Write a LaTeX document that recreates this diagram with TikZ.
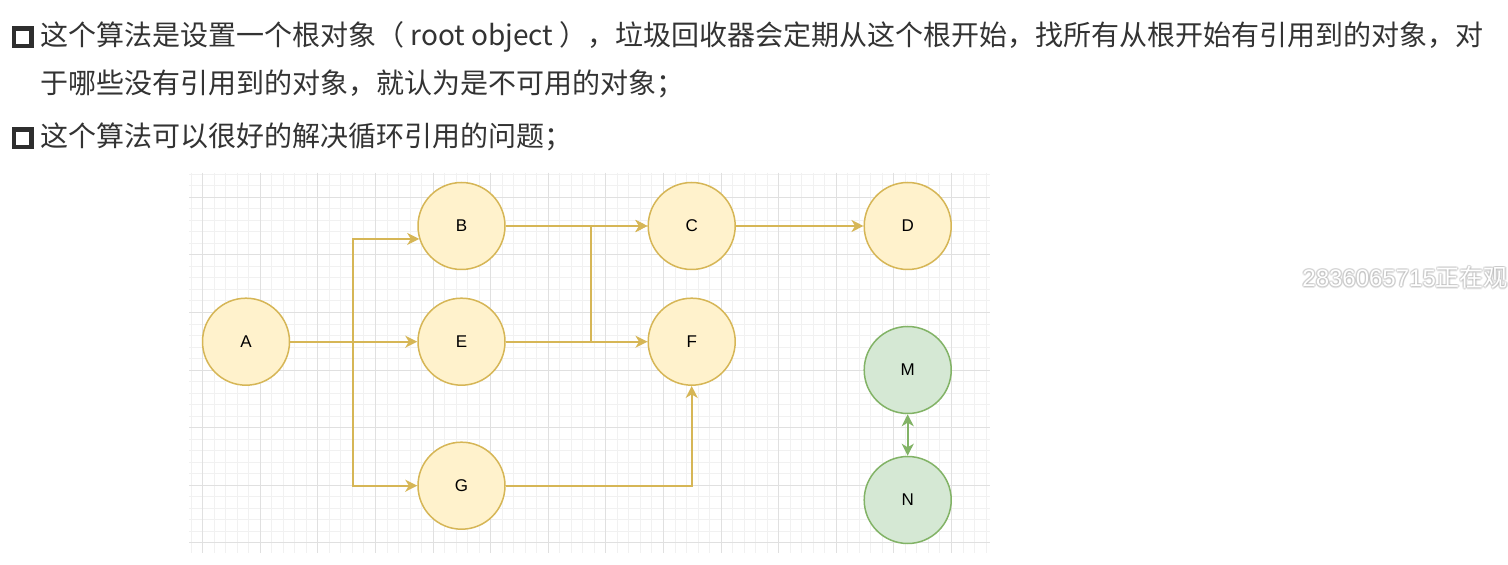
\documentclass[tikz,border=0pt]{standalone}
\usepackage{fontspec}
\setmainfont{Liberation Sans}
\newfontfamily\cjk{Noto Sans CJK SC}
\usetikzlibrary{arrows.meta}

\definecolor{txtgray}{HTML}{333333}
\definecolor{yfill}{HTML}{FFF2CC}
\definecolor{yline}{HTML}{D6B656}
\definecolor{gfill}{HTML}{D5E8D4}
\definecolor{gline}{HTML}{82B366}
\definecolor{minorgrid}{HTML}{F1F1F1}
\definecolor{majorgrid}{HTML}{E0E0E0}

\begin{document}
\begin{tikzpicture}[x=0.5pt, y=-0.5pt, >={Stealth[length=6pt, width=6pt, inset=1.8pt]},
  obj/.style={circle, draw=yline, fill=yfill, line width=0.75pt, minimum size=43.5pt,
    inner sep=0pt, font=\fontsize{8.5pt}{10pt}\selectfont},
  lone/.style={obj, draw=gline, fill=gfill},
  ref/.style={->, draw=yline, line width=1pt},
  para/.style={anchor=base west, inner sep=0pt, text=txtgray, font=\cjk\fontsize{14pt}{17pt}\selectfont},
  wmark/.style={anchor=base west, inner sep=0pt, font=\fontsize{12pt}{14pt}\selectfont}]

  \useasboundingbox (0,0) rectangle (1508,565);
  \fill[white] (0,0) rectangle (1508,565);

  % text above the figure
  \draw[txtgray!90!black, line width=2.1pt] (14,28.5) rectangle (31.5,46);
  \draw[txtgray!90!black, line width=2.1pt] (14,129.5) rectangle (31.5,147);
  \node[para] (l1) at (40,46) {这个算法是设置一个根对象（ root object ），垃圾回收器会定期从这个根开始，找所有从根开始有引用到的对象，对};
  \node[para] (l2) at (40,94) {于哪些没有引用到的对象，就认为是不可用的对象；};
  \node[para] (l3) at (40,147) {这个算法可以很好的解决循环引用的问题；};

  % grid background
  \foreach \i in {0,...,69}
    \draw[minorgrid, line width=0.5pt] ({191.18+11.52*\i},173) -- ({191.18+11.52*\i},552.7);
  \foreach \j in {0,...,32}
    \draw[minorgrid, line width=0.5pt] (189,{174.26+11.52*\j}) -- (990,{174.26+11.52*\j});
  \foreach \i in {0,...,13}
    \draw[majorgrid, line width=0.5pt] ({202.7+57.6*\i},173) -- ({202.7+57.6*\i},552.7);
  \foreach \j in {0,...,6}
    \draw[majorgrid, line width=0.5pt] (189,{197.3+57.6*\j}) -- (990,{197.3+57.6*\j});

  % objects
  \node[obj] (A) at (246,341.7) {A};
  \node[obj] (B) at (461.5,226) {B};
  \node[obj] (E) at (461.5,341.7) {E};
  \node[obj] (G) at (461.5,485.7) {G};
  \node[obj] (C) at (691.7,226) {C};
  \node[obj] (F) at (691.7,341.7) {F};
  \node[obj] (D) at (907.7,226) {D};
  \node[lone] (M) at (907.7,370) {M};
  \node[lone] (N) at (907.7,500) {N};

  % references
  \coordinate (fork) at (353,341.7);
  \coordinate (join) at (591,341.7);
  \draw[ref] (A.east) -- (E.west);
  \draw[ref] (fork) |- (B.197);
  \draw[ref] (fork) |- (G.west);
  \draw[ref] (B.east) -- (C.west);
  \draw[ref] (E.east) -- (F.west);
  \draw[ref] (join) |- (C.west);
  \draw[ref] (C.east) -- (D.west);
  \draw[ref] (G.east) -| (F.south);
  \draw[<->, draw=gline, line width=1pt] (M.south) -- (N.north);

  % watermark
  \foreach \dx/\dy in {-1.5/0,1.5/0,0/-1.5,0/1.5,-1/-1,1/1,-1/1,1/-1}
    \node[wmark, text=black!30, opacity=0.3] at (1302+\dx,287+\dy) {2836065715{\cjk 正在观}};
  \node[wmark, text=white] (wm) at (1302,287) {2836065715{\cjk 正在观}};
\end{tikzpicture}
\end{document}
